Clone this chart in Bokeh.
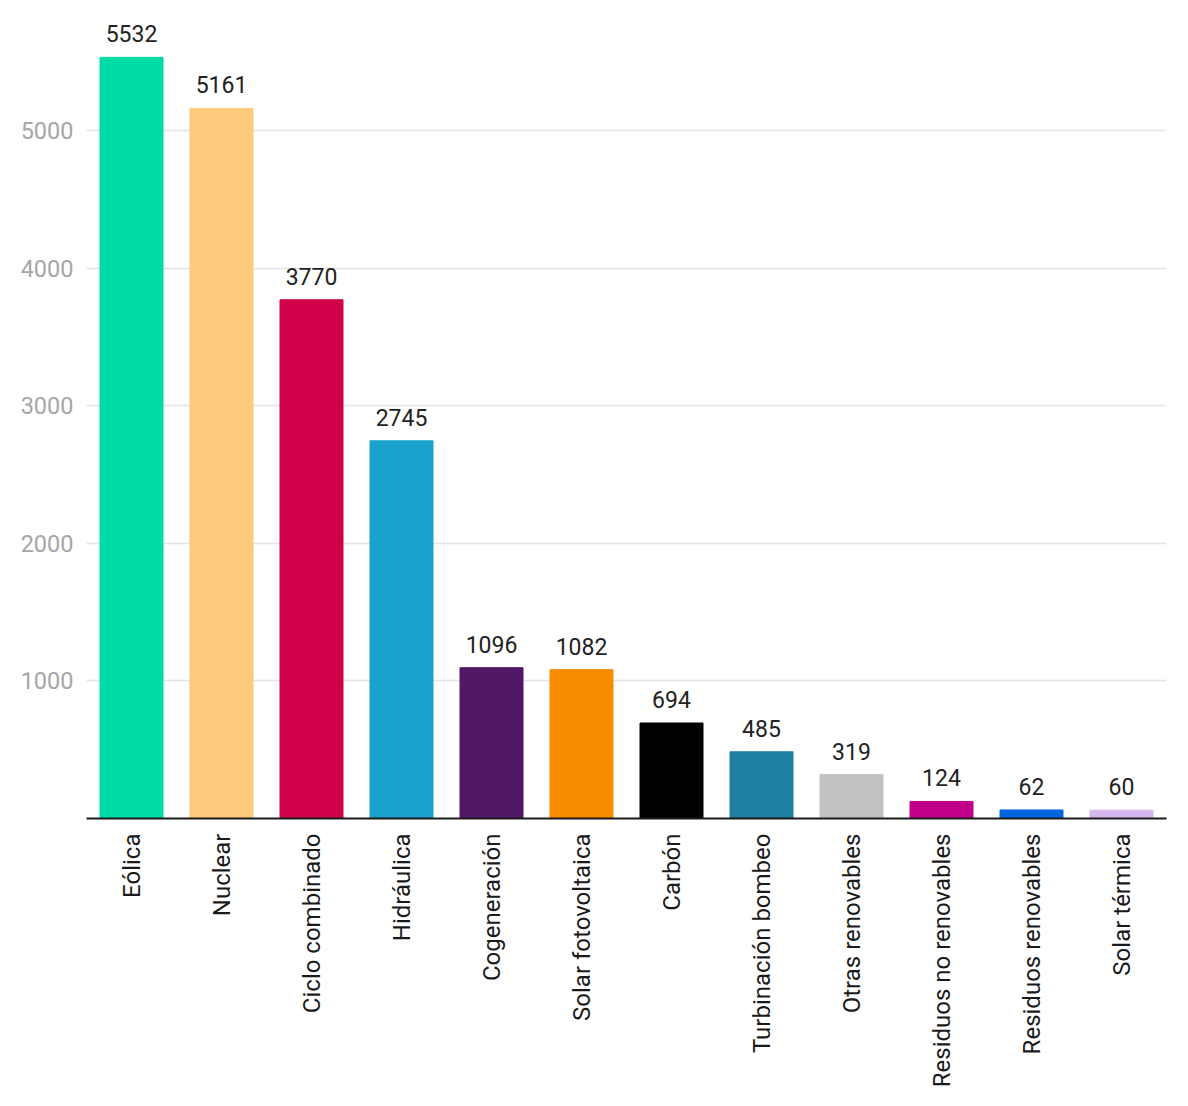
import math
from bokeh.plotting import figure
from bokeh.models import ColumnDataSource, Range1d, FixedTicker
from bokeh.core.properties import value
from bokeh.embed import file_html
from bokeh.resources import INLINE

categories = ["Eólica", "Nuclear", "Ciclo combinado", "Hidráulica", "Cogeneración",
              "Solar fotovoltaica", "Carbón", "Turbinación bombeo", "Otras renovables",
              "Residuos no renovables", "Residuos renovables", "Solar térmica"]
values = [5532, 5161, 3770, 2745, 1096, 1082, 694, 485, 319, 124, 62, 60]
colors = ["#00DCA8", "#FDC97A", "#D1004A", "#1AA1CC", "#521766", "#F98B00",
          "#000000", "#1E80A0", "#C2C2C2", "#C0008A", "#0066E0", "#D6B8EE"]
y_ticks = [1000, 2000, 3000, 4000, 5000]

src = ColumnDataSource(dict(cat=categories, val=values, col=colors,
                            lab=[str(v) for v in values]))

p = figure(x_range=categories, y_range=Range1d(0, 5887), width=1180, height=1090,
           output_backend="svg", toolbar_location=None,
           min_border_left=86, min_border_right=14, min_border_top=8, min_border_bottom=272)
p.outline_line_color = None
p.vbar(x="cat", top="val", width=0.7, color="col", source=src)
p.text(x="cat", y="val", text="lab", source=src, text_align="center",
       text_baseline="bottom", y_offset=-15, text_font=value("Roboto"),
       text_font_size="23px", text_color="#222222")

p.xgrid.grid_line_color = None
p.ygrid.grid_line_color = "#E4E4E4"
p.ygrid.grid_line_width = 1.5
p.yaxis.ticker = FixedTicker(ticks=y_ticks)
p.yaxis.axis_line_color = None
p.yaxis.major_tick_line_color = None
p.yaxis.minor_tick_line_color = None
p.yaxis.major_label_text_color = "#A6A6A6"
p.yaxis.major_label_text_font = "Roboto"
p.yaxis.major_label_text_font_size = "23.5px"
p.yaxis.major_label_standoff = 7

p.xaxis.axis_line_color = "#1A1A1A"
p.xaxis.axis_line_width = 2
p.xaxis.major_tick_line_color = None
p.xaxis.minor_tick_line_color = None
p.xaxis.major_label_orientation = math.pi / 2
p.xaxis.major_label_text_font = "Roboto"
p.xaxis.major_label_text_font_size = "24px"
p.xaxis.major_label_text_color = "#1A1A1A"
p.xaxis.major_label_standoff = 9
p.x_range.range_padding = 0

open("out.html", "w").write(file_html(p, INLINE))
